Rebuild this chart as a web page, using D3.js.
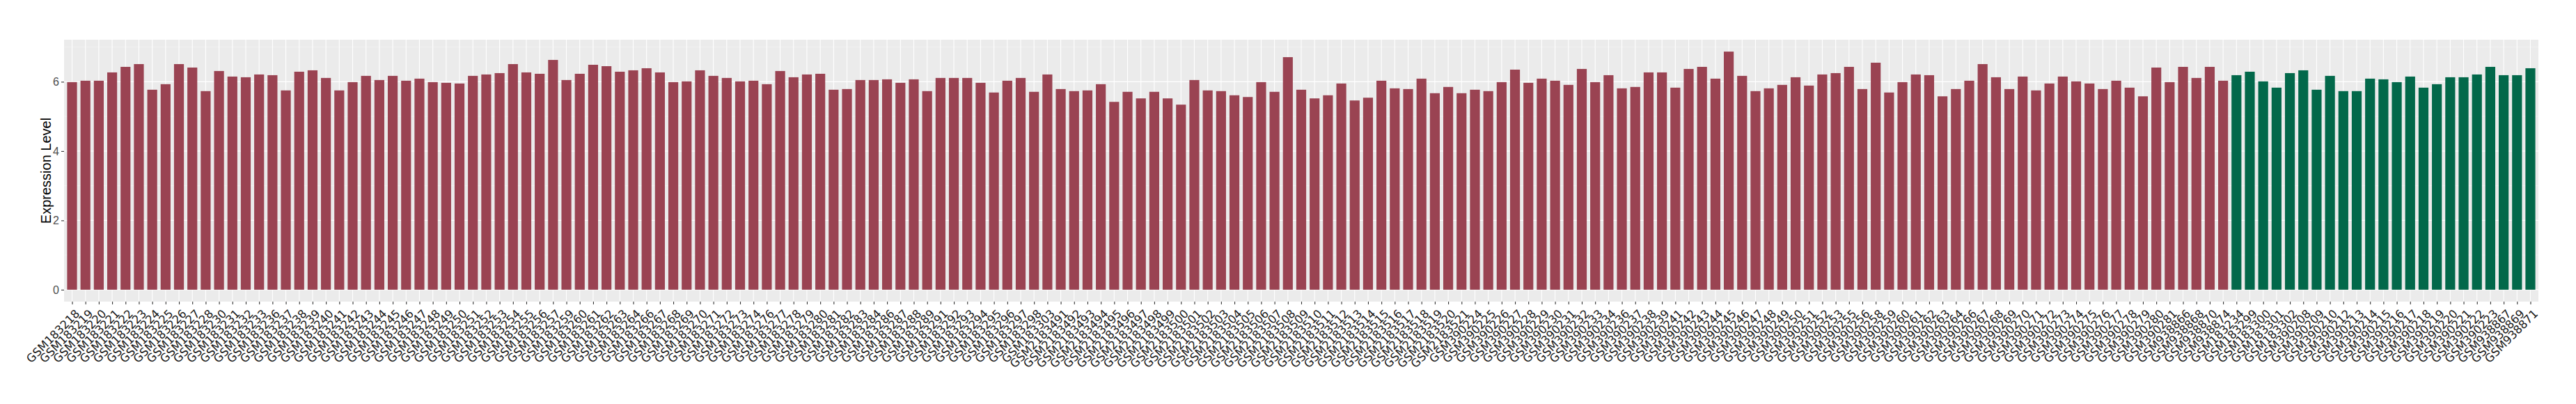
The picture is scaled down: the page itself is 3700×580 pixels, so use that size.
<!DOCTYPE html>
<html>
  <head>
    <meta charset="UTF-8" />
    <style>
      body { margin: 0; background: white; }
      .xlab text { font-family: "DejaVu Sans", sans-serif; font-size: 16.4px; fill: #1a1a1a; }
      .ylab text { font-family: "Liberation Sans", Arial, sans-serif; font-size: 16px; fill: #4d4d4d; }
    </style>
  </head>
  <body>
    <svg></svg>
    <script src="https://d3js.org/d3.v7.min.js"></script>
    <script>
      // samples of the first group (red bars)
      let samplesA = [
        "GSM183218","GSM183219","GSM183220","GSM183221","GSM183222","GSM183223","GSM183224","GSM183225","GSM183226","GSM183227",
        "GSM183228","GSM183230","GSM183231","GSM183232","GSM183233","GSM183236","GSM183237","GSM183238","GSM183239","GSM183240",
        "GSM183241","GSM183242","GSM183243","GSM183244","GSM183245","GSM183246","GSM183247","GSM183248","GSM183249","GSM183250",
        "GSM183251","GSM183252","GSM183253","GSM183254","GSM183255","GSM183256","GSM183257","GSM183259","GSM183260","GSM183261",
        "GSM183262","GSM183263","GSM183264","GSM183266","GSM183267","GSM183268","GSM183269","GSM183270","GSM183271","GSM183272",
        "GSM183273","GSM183274","GSM183276","GSM183277","GSM183278","GSM183279","GSM183280","GSM183281","GSM183282","GSM183283",
        "GSM183284","GSM183286","GSM183287","GSM183288","GSM183289","GSM183291","GSM183292","GSM183293","GSM183294","GSM183295",
        "GSM183296","GSM183297","GSM183298","GSM183303",
        "GSM2183491","GSM2183492","GSM2183493","GSM2183494","GSM2183495","GSM2183496","GSM2183497","GSM2183498","GSM2183499","GSM2183500",
        "GSM2183501","GSM2183502","GSM2183503","GSM2183504","GSM2183505","GSM2183506","GSM2183507","GSM2183508","GSM2183509","GSM2183510",
        "GSM2183511","GSM2183512","GSM2183513","GSM2183514","GSM2183515","GSM2183516","GSM2183517","GSM2183518","GSM2183519","GSM2183520",
        "GSM2183521",
        "GSM390224","GSM390225","GSM390226","GSM390227","GSM390228","GSM390229","GSM390230","GSM390231","GSM390232","GSM390233",
        "GSM390234","GSM390236","GSM390237","GSM390238","GSM390239","GSM390241","GSM390242","GSM390243","GSM390244","GSM390245",
        "GSM390246","GSM390247","GSM390248","GSM390249","GSM390250","GSM390251","GSM390252","GSM390253","GSM390255","GSM390256",
        "GSM390258","GSM390259","GSM390260","GSM390261","GSM390262","GSM390263","GSM390264","GSM390266","GSM390267","GSM390268",
        "GSM390269","GSM390270","GSM390271","GSM390272","GSM390273","GSM390274","GSM390275","GSM390276","GSM390277","GSM390278",
        "GSM390279","GSM390280","GSM390281",
        "GSM938866","GSM938868","GSM938870","GSM938874"
      ];
      let valuesA = [
        5.99,6.03,6.03,6.27,6.43,6.51,5.77,5.93,6.51,6.41,
        5.73,6.31,6.15,6.13,6.21,6.19,5.75,6.29,6.33,6.11,
        5.75,5.99,6.17,6.05,6.17,6.03,6.09,5.99,5.97,5.95,
        6.17,6.21,6.25,6.51,6.27,6.23,6.63,6.05,6.23,6.49,
        6.45,6.29,6.33,6.39,6.27,5.99,6.01,6.33,6.17,6.11,
        6.01,6.03,5.93,6.31,6.13,6.21,6.23,5.77,5.79,6.05,
        6.05,6.07,5.97,6.07,5.73,6.11,6.11,6.11,5.97,5.69,
        6.03,6.11,5.71,6.21,
        5.79,5.73,5.75,5.93,5.42,5.71,5.52,5.71,5.52,5.34,
        6.05,5.75,5.73,5.61,5.56,5.99,5.71,6.71,5.77,5.52,
        5.61,5.95,5.46,5.54,6.03,5.81,5.79,6.09,5.67,5.85,
        5.67,
        5.77,5.73,5.99,6.35,5.97,6.09,6.03,5.91,6.37,5.99,
        6.19,5.81,5.85,6.27,6.27,5.83,6.37,6.43,6.09,6.87,
        6.17,5.73,5.81,5.91,6.13,5.89,6.21,6.25,6.43,5.79,
        6.55,5.69,5.99,6.21,6.19,5.58,5.79,6.03,6.51,6.13,
        5.79,6.15,5.75,5.95,6.15,6.01,5.95,5.79,6.03,5.83,
        5.58,6.41,5.99,
        6.43,6.11,6.43,6.03
      ];

      // samples of the second group (green bars)
      let samplesB = [
        "GSM183234","GSM183299","GSM183300","GSM183301","GSM183302","GSM390208","GSM390209","GSM390210","GSM390212","GSM390213",
        "GSM390214","GSM390215","GSM390216","GSM390217","GSM390218","GSM390219","GSM390220","GSM390221","GSM390222","GSM390223",
        "GSM938867","GSM938869","GSM938871"
      ];
      let valuesB = [
        6.19,6.29,6.01,5.83,6.25,6.33,5.77,6.17,5.73,5.73,
        6.09,6.07,5.99,6.15,5.83,5.93,6.13,6.13,6.21,6.43,
        6.19,6.19,6.39
      ];

      let yTicks = [0, 2, 4, 6];
      let yTitle = "Expression Level";

      let width = 3700, height = 580;
      let panel = { left: 92, right: 3646, top: 57, bottom: 433 };

      let bars = [];
      samplesA.forEach((s, i) => bars.push({ sample: s, value: valuesA[i], group: "A" }));
      samplesB.forEach((s, i) => bars.push({ sample: s, value: valuesB[i], group: "B" }));

      let svg = d3.select("svg").attr("width", width).attr("height", height);

      let x = d3.scalePoint()
        .domain(bars.map(d => d.sample))
        .range([panel.left, panel.right])
        .padding(0.6);

      let yMax = d3.max(bars, d => d.value);
      let pad = yMax * 0.05;
      let y = d3.scaleLinear()
        .domain([-pad, yMax + pad])
        .range([panel.bottom, panel.top]);

      let color = d3.scaleOrdinal().domain(["A", "B"]).range(["#9a4352", "#02684a"]);

      // panel background
      svg.append("rect")
        .attr("x", panel.left).attr("y", panel.top)
        .attr("width", panel.right - panel.left)
        .attr("height", panel.bottom - panel.top)
        .attr("fill", "#ebebeb");

      // minor grid
      let minor = d3.range(1, y.domain()[1], 2);
      svg.append("g").selectAll("line")
        .data(minor)
        .join("line")
        .attr("x1", panel.left).attr("x2", panel.right)
        .attr("y1", d => y(d)).attr("y2", d => y(d))
        .attr("stroke", "#f7f7f7").attr("stroke-width", 0.6);

      // major grid
      svg.append("g").selectAll("line")
        .data(yTicks)
        .join("line")
        .attr("x1", panel.left).attr("x2", panel.right)
        .attr("y1", d => y(d)).attr("y2", d => y(d))
        .attr("stroke", "white").attr("stroke-width", 1.1);

      svg.append("g").selectAll("line")
        .data(bars)
        .join("line")
        .attr("x1", d => x(d.sample)).attr("x2", d => x(d.sample))
        .attr("y1", panel.top).attr("y2", panel.bottom)
        .attr("stroke", "white").attr("stroke-width", 1.1);

      // bars
      let bw = x.step() * 0.74;
      svg.append("g").selectAll("rect")
        .data(bars)
        .join("rect")
        .attr("x", d => x(d.sample) - bw / 2)
        .attr("width", bw)
        .attr("y", d => y(d.value))
        .attr("height", d => y(0) - y(d.value))
        .attr("fill", d => color(d.group));

      // y axis
      let yAxis = svg.append("g")
        .attr("class", "ylab")
        .attr("transform", `translate(${panel.left},0)`)
        .call(d3.axisLeft(y).tickValues(yTicks).tickSize(4).tickPadding(3).tickFormat(d3.format("d")));
      yAxis.select(".domain").remove();
      yAxis.selectAll(".tick line").attr("stroke", "#333333").attr("stroke-width", 1.1);

      // x axis
      let xAxis = svg.append("g")
        .attr("class", "xlab")
        .attr("transform", `translate(0,${panel.bottom})`)
        .call(d3.axisBottom(x).tickSize(4).tickPadding(0));
      xAxis.select(".domain").remove();
      xAxis.selectAll(".tick line").attr("stroke", "#333333").attr("stroke-width", 1.1);
      xAxis.selectAll(".tick text")
        .attr("text-anchor", "end")
        .attr("x", 0).attr("y", 0)
        .attr("dy", "0.72em")
        .attr("transform", "translate(3,10) rotate(-45)");

      // y title
      svg.append("text")
        .attr("transform", `translate(73,${(panel.top + panel.bottom) / 2}) rotate(-90)`)
        .attr("text-anchor", "middle")
        .style("font-family", "Liberation Sans, Arial, sans-serif")
        .style("font-size", "20px")
        .attr("fill", "black")
        .text(yTitle);
    </script>
  </body>
</html>
